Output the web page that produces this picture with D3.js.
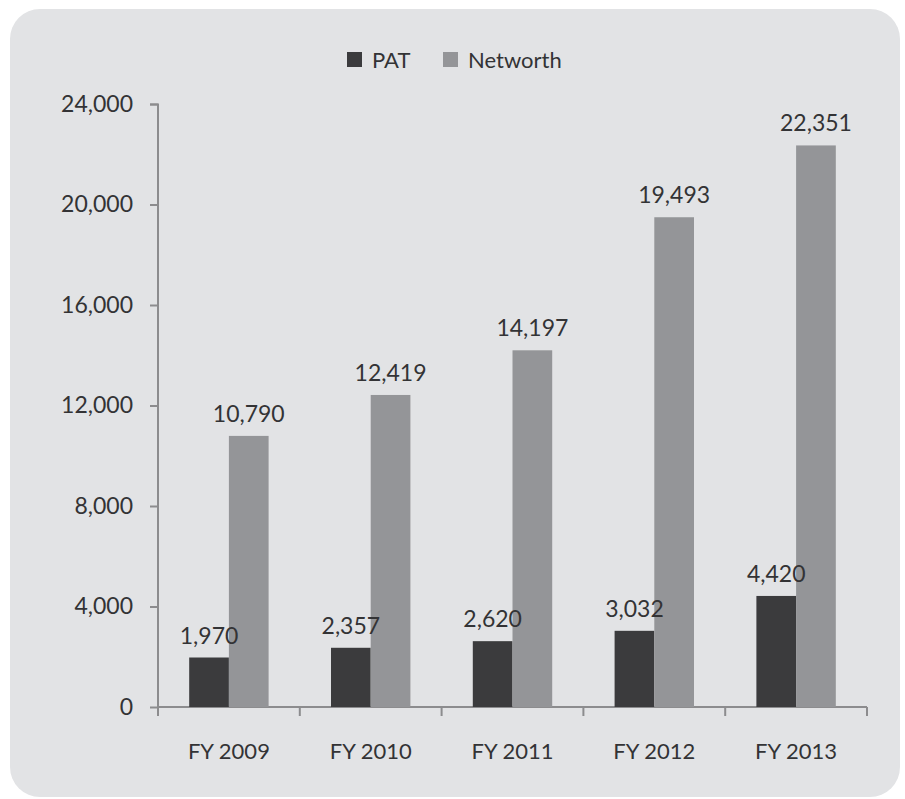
<!DOCTYPE html>
<html>
<head>
<meta charset="utf-8">
<script src="https://cdn.jsdelivr.net/npm/d3@7"></script>
<style>
  body { margin: 0; background: #ffffff; }
  text { font-family: Lato, "Open Sans", sans-serif; fill: #333335; }
</style>
</head>
<body>
<svg id="chart"></svg>
<script>
const categories = ["FY 2009", "FY 2010", "FY 2011", "FY 2012", "FY 2013"];
const seriesNames = ["PAT", "Networth"];
const patValues = [1970, 2357, 2620, 3032, 4420];
const networthValues = [10790, 12419, 14197, 19493, 22351];
const yTicks = [0, 4000, 8000, 12000, 16000, 20000, 24000];

const fullWidth = 905;
const fullHeight = 799;
const marginLeft = 158;
const marginRight = 38;
const marginTop = 104;
const marginBottom = 92;
const width = fullWidth - marginLeft - marginRight;
const height = fullHeight - marginTop - marginBottom;

const colors = { PAT: "#3b3b3d", Networth: "#949598" };

const svg = d3.select("#chart")
    .attr("width", fullWidth)
    .attr("height", fullHeight);

// panel background
svg.append("rect")
    .attr("x", 10)
    .attr("y", 9)
    .attr("width", 890)
    .attr("height", 788)
    .attr("rx", 30)
    .attr("fill", "#e2e3e5");

const chart = svg.append("g")
    .attr("transform", `translate(${marginLeft}, ${marginTop})`);

const xScale = d3.scaleBand()
    .domain(categories)
    .range([0, width]);

const yScale = d3.scaleLinear()
    .domain([0, 24000])
    .range([height, 0]);

// y axis
const yAxis = chart.append("g")
    .call(d3.axisLeft(yScale).tickValues(yTicks).tickSize(8).tickPadding(17)
      .tickFormat(d3.format(",")));
yAxis.select(".domain").attr("stroke", "#8c8c8e").attr("stroke-width", 2).attr("d", `M-8,0.5H0V${height}`);
yAxis.selectAll(".tick line").attr("stroke", "#8c8c8e").attr("stroke-width", 2);
yAxis.selectAll(".tick text").attr("font-size", 23).attr("fill", "#333335");

// x axis
const xAxis = chart.append("g")
    .attr("transform", `translate(0, ${height})`)
    .call(d3.axisBottom(xScale).tickSize(0).tickPadding(36));
xAxis.select(".domain").attr("stroke", "#8c8c8e").attr("stroke-width", 2).attr("d", `M0,0H${width}`);
xAxis.selectAll(".tick text").attr("font-size", 22).attr("fill", "#333335");

// boundary ticks between categories
chart.append("g")
    .selectAll("line")
    .data(d3.range(categories.length + 1))
    .join("line")
    .attr("x1", i => i * xScale.step())
    .attr("x2", i => i * xScale.step())
    .attr("y1", height)
    .attr("y2", height + 9)
    .attr("stroke", "#8c8c8e")
    .attr("stroke-width", 2);

const rows = categories.map((c, i) => ({
  category: c,
  values: [
    { key: "PAT", value: patValues[i] },
    { key: "Networth", value: networthValues[i] }
  ]
}));

const barWidth = xScale.bandwidth() * 0.28;
const groups = chart.selectAll(".group")
    .data(rows)
    .join("g")
    .attr("class", "group")
    .attr("transform", d => `translate(${xScale(d.category) + xScale.bandwidth() / 2 - barWidth}, 0)`);

groups.selectAll("rect")
    .data(d => d.values)
    .join("rect")
    .attr("x", (d, i) => i * barWidth)
    .attr("y", d => yScale(d.value))
    .attr("width", barWidth)
    .attr("height", d => height - yScale(d.value))
    .attr("fill", d => colors[d.key]);

groups.selectAll(".label")
    .data(d => d.values)
    .join("text")
    .attr("class", "label")
    .attr("x", (d, i) => i * barWidth + barWidth / 2)
    .attr("y", d => yScale(d.value) - 14)
    .attr("text-anchor", "middle")
    .attr("font-size", 23)
    .text(d => d3.format(",")(d.value));

// legend
const legend = svg.append("g").attr("transform", "translate(347, 52)");
const legendX = [0, 96];
seriesNames.forEach((name, i) => {
  legend.append("rect")
      .attr("x", legendX[i])
      .attr("y", 0)
      .attr("width", 15)
      .attr("height", 15)
      .attr("fill", colors[name]);
  legend.append("text")
      .attr("x", legendX[i] + 25)
      .attr("y", 8)
      .attr("dy", "0.35em")
      .attr("font-size", 22)
      .text(name);
});
</script>
</body>
</html>
